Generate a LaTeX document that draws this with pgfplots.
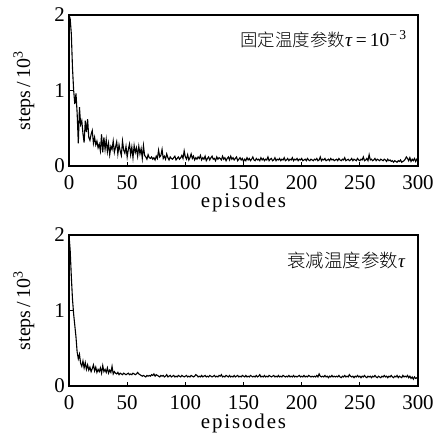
\documentclass[border=0pt]{standalone}
\usepackage{pgfplots}
\pgfplotsset{compat=1.18}
\usepackage{fontspec}
\setmainfont{Liberation Serif}
\newfontfamily\cjk{Noto Sans CJK SC}[UprightFont={* Light}]
\newfontfamily\xlabfont{Liberation Serif}[LetterSpace=9]
\pgfplotsset{panel/.style={
  width=349bp, height=151bp, scale only axis,
  xmin=0, xmax=300, ymin=0, ymax=2,
  xtick={0,50,...,300}, ytick={0,1,2},
  tick pos=left, tick align=inside, major tick length=4bp,
  axis line style={line width=1.4pt},
  every tick/.style={black, line width=0.9pt},
  /pgf/number format/assume math mode=true,
  tick label style={font=\fontsize{21}{21}\selectfont},
  xticklabel style={inner sep=0pt, anchor=north, yshift=-9bp},
  yticklabel style={inner sep=0pt, anchor=east, xshift=-4bp},
  xlabel={episodes},
  xlabel style={font=\xlabfont\fontsize{21}{21}\selectfont, at={(axis description cs:0.5,0)}, anchor=base, yshift=-42bp, inner sep=0pt},
  ylabel={steps\,/\,10\textsuperscript{3}},
  ylabel style={font=\fontsize{20}{20}\selectfont, at={(axis description cs:0,0.5)}, anchor=center, yshift=45bp, inner sep=0pt},
  clip mode=individual,
}}
\begin{document}
\begin{tikzpicture}
\useasboundingbox (-69bp,-57bp) rectangle (369bp,386bp);
% bottom panel
\begin{axis}[panel, name=bot, at={(0,0)}, anchor=south west]
\addplot[black, line width=1.1bp] coordinates {
(0,2.00)(1,1.80)(2,1.45)(3,1.15)(4,0.95)(5,0.80)(6,0.65)(7,0.45)(8,0.36)(9,0.42)
(10,0.30)(11,0.26)(12,0.33)(13,0.24)(14,0.31)(15,0.22)(16,0.28)(17,0.21)(18,0.25)(19,0.19)
(20,0.23)(21,0.28)(22,0.20)(23,0.25)(24,0.18)(25,0.22)(26,0.19)(27,0.24)(28,0.17)(29,0.27)
(30,0.19)(31,0.22)(32,0.18)(33,0.24)(34,0.17)(35,0.21)(36,0.18)(37,0.26)(38,0.16)(39,0.19)
(40,0.17)(41,0.16)(42,0.18)(43,0.15)(44,0.17)(45,0.16)(46,0.15)(47,0.17)(48,0.16)(49,0.15)
(50,0.16)(51,0.17)(52,0.15)(53,0.16)(54,0.15)(55,0.17)(56,0.16)(57,0.15)(58,0.16)(59,0.18)
(60,0.16)(61,0.15)(62,0.14)(63,0.13)(64,0.14)(65,0.13)(66,0.12)(67,0.14)(68,0.13)(69,0.14)
(70,0.13)(71,0.15)(72,0.14)(73,0.16)(74,0.13)(75,0.15)(76,0.14)(77,0.13)(78,0.12)(79,0.14)
(80,0.13)(81,0.14)(82,0.12)(83,0.13)(84,0.15)(85,0.12)(86,0.13)(87,0.14)(88,0.12)(89,0.13)
(90,0.14)(91,0.12)(92,0.13)(93,0.12)(94,0.14)(95,0.13)(96,0.12)(97,0.14)(98,0.13)(99,0.12)
(100,0.13)(101,0.14)(102,0.12)(103,0.13)(104,0.12)(105,0.14)(106,0.13)(107,0.12)(108,0.13)(109,0.15)
(110,0.14)(111,0.12)(112,0.13)(113,0.12)(114,0.14)(115,0.12)(116,0.13)(117,0.14)(118,0.12)(119,0.13)
(120,0.12)(121,0.14)(122,0.13)(123,0.12)(124,0.13)(125,0.14)(126,0.12)(127,0.13)(128,0.12)(129,0.14)
(130,0.13)(131,0.15)(132,0.12)(133,0.13)(134,0.12)(135,0.14)(136,0.13)(137,0.12)(138,0.14)(139,0.12)
(140,0.13)(141,0.12)(142,0.14)(143,0.12)(144,0.13)(145,0.14)(146,0.12)(147,0.13)(148,0.12)(149,0.14)
(150,0.13)(151,0.12)(152,0.14)(153,0.12)(154,0.13)(155,0.12)(156,0.14)(157,0.13)(158,0.12)(159,0.13)
(160,0.12)(161,0.14)(162,0.12)(163,0.13)(164,0.15)(165,0.12)(166,0.13)(167,0.12)(168,0.14)(169,0.12)
(170,0.13)(171,0.12)(172,0.14)(173,0.13)(174,0.12)(175,0.13)(176,0.14)(177,0.12)(178,0.13)(179,0.12)
(180,0.14)(181,0.12)(182,0.13)(183,0.12)(184,0.14)(185,0.13)(186,0.12)(187,0.13)(188,0.12)(189,0.14)
(190,0.12)(191,0.13)(192,0.12)(193,0.14)(194,0.12)(195,0.13)(196,0.12)(197,0.13)(198,0.14)(199,0.12)
(200,0.13)(201,0.12)(202,0.14)(203,0.12)(204,0.13)(205,0.12)(206,0.14)(207,0.13)(208,0.12)(209,0.13)
(210,0.12)(211,0.13)(212,0.12)(213,0.14)(214,0.12)(215,0.16)(216,0.13)(217,0.12)(218,0.13)(219,0.12)
(220,0.14)(221,0.12)(222,0.13)(223,0.11)(224,0.13)(225,0.12)(226,0.14)(227,0.12)(228,0.13)(229,0.12)
(230,0.13)(231,0.12)(232,0.14)(233,0.12)(234,0.11)(235,0.13)(236,0.12)(237,0.14)(238,0.12)(239,0.13)
(240,0.12)(241,0.15)(242,0.13)(243,0.12)(244,0.13)(245,0.11)(246,0.13)(247,0.12)(248,0.14)(249,0.12)
(250,0.13)(251,0.11)(252,0.13)(253,0.12)(254,0.14)(255,0.12)(256,0.11)(257,0.13)(258,0.12)(259,0.13)
(260,0.11)(261,0.13)(262,0.12)(263,0.14)(264,0.12)(265,0.11)(266,0.13)(267,0.12)(268,0.11)(269,0.13)
(270,0.12)(271,0.14)(272,0.12)(273,0.13)(274,0.11)(275,0.13)(276,0.12)(277,0.14)(278,0.12)(279,0.11)
(280,0.13)(281,0.12)(282,0.14)(283,0.11)(284,0.13)(285,0.12)(286,0.11)(287,0.14)(288,0.12)(289,0.13)
(290,0.12)(291,0.14)(292,0.11)(293,0.13)(294,0.10)(295,0.12)(296,0.09)(297,0.12)(298,0.10)(299,0.11)(300,0.09)
};
\node[anchor=east, inner sep=0pt] at (axis description cs:0.963,0.834)
  {\cjk\fontsize{18.5}{18.5}\selectfont 衰减温度参数{\rmfamily\itshape\fontsize{19}{19}\selectfont τ}};
\end{axis}
% top panel
\begin{axis}[panel, name=top, at={(0,220bp)}, anchor=south west]
\addplot[black, line width=1.1bp] coordinates {
(0,2.00)(1,1.95)(2,1.75)(3,1.30)(4,1.00)(5,0.82)(6,0.96)(7,0.70)(8,0.30)(9,0.78)
(10,0.55)(11,0.60)(12,0.43)(13,0.31)(14,0.60)(15,0.45)(16,0.62)(17,0.38)(18,0.34)(19,0.42)
(20,0.47)(21,0.30)(22,0.38)(23,0.28)(24,0.33)(25,0.24)(26,0.29)(27,0.20)(28,0.42)(29,0.18)
(30,0.38)(31,0.22)(32,0.35)(33,0.19)(34,0.30)(35,0.15)(36,0.26)(37,0.22)(38,0.33)(39,0.18)
(40,0.25)(41,0.32)(42,0.16)(43,0.28)(44,0.20)(45,0.14)(46,0.33)(47,0.21)(48,0.17)(49,0.26)
(50,0.12)(51,0.22)(52,0.29)(53,0.15)(54,0.25)(55,0.11)(56,0.27)(57,0.18)(58,0.24)(59,0.13)
(60,0.26)(61,0.16)(62,0.23)(63,0.10)(64,0.27)(65,0.14)(66,0.12)(67,0.09)(68,0.15)(69,0.11)
(70,0.10)(71,0.12)(72,0.09)(73,0.11)(74,0.08)(75,0.13)(76,0.10)(77,0.21)(78,0.12)(79,0.14)
(80,0.22)(81,0.10)(82,0.13)(83,0.09)(84,0.16)(85,0.11)(86,0.08)(87,0.12)(88,0.10)(89,0.09)
(90,0.11)(91,0.13)(92,0.08)(93,0.10)(94,0.12)(95,0.09)(96,0.11)(97,0.14)(98,0.10)(99,0.20)
(100,0.12)(101,0.09)(102,0.15)(103,0.08)(104,0.11)(105,0.16)(106,0.10)(107,0.13)(108,0.08)(109,0.11)
(110,0.09)(111,0.12)(112,0.10)(113,0.14)(114,0.08)(115,0.11)(116,0.09)(117,0.13)(118,0.07)(119,0.10)
(120,0.12)(121,0.08)(122,0.11)(123,0.13)(124,0.09)(125,0.10)(126,0.07)(127,0.12)(128,0.09)(129,0.11)
(130,0.10)(131,0.08)(132,0.13)(133,0.09)(134,0.11)(135,0.07)(136,0.10)(137,0.12)(138,0.08)(139,0.13)
(140,0.09)(141,0.11)(142,0.08)(143,0.10)(144,0.12)(145,0.07)(146,0.09)(147,0.11)(148,0.08)(149,0.10)
(150,0.06)(151,0.09)(152,0.07)(153,0.11)(154,0.08)(155,0.10)(156,0.07)(157,0.09)(158,0.12)(159,0.08)
(160,0.07)(161,0.10)(162,0.08)(163,0.09)(164,0.07)(165,0.11)(166,0.08)(167,0.10)(168,0.07)(169,0.09)
(170,0.08)(171,0.12)(172,0.07)(173,0.09)(174,0.10)(175,0.07)(176,0.08)(177,0.11)(178,0.07)(179,0.09)
(180,0.08)(181,0.10)(182,0.07)(183,0.09)(184,0.08)(185,0.11)(186,0.07)(187,0.08)(188,0.10)(189,0.07)
(190,0.09)(191,0.08)(192,0.11)(193,0.07)(194,0.09)(195,0.08)(196,0.10)(197,0.07)(198,0.09)(199,0.08)
(200,0.10)(201,0.07)(202,0.08)(203,0.09)(204,0.07)(205,0.10)(206,0.08)(207,0.07)(208,0.09)(209,0.08)
(210,0.07)(211,0.09)(212,0.08)(213,0.10)(214,0.07)(215,0.08)(216,0.12)(217,0.07)(218,0.09)(219,0.08)
(220,0.10)(221,0.07)(222,0.08)(223,0.09)(224,0.07)(225,0.10)(226,0.08)(227,0.09)(228,0.07)(229,0.08)
(230,0.09)(231,0.07)(232,0.10)(233,0.08)(234,0.07)(235,0.09)(236,0.08)(237,0.11)(238,0.07)(239,0.08)
(240,0.09)(241,0.07)(242,0.08)(243,0.10)(244,0.07)(245,0.09)(246,0.08)(247,0.07)(248,0.10)(249,0.08)
(250,0.07)(251,0.09)(252,0.08)(253,0.12)(254,0.07)(255,0.08)(256,0.10)(257,0.07)(258,0.15)(259,0.08)
(260,0.09)(261,0.07)(262,0.08)(263,0.10)(264,0.07)(265,0.09)(266,0.08)(267,0.07)(268,0.09)(269,0.08)
(270,0.07)(271,0.09)(272,0.08)(273,0.06)(274,0.09)(275,0.07)(276,0.08)(277,0.06)(278,0.07)(279,0.05)
(280,0.07)(281,0.06)(282,0.05)(283,0.07)(284,0.06)(285,0.08)(286,0.05)(287,0.06)(288,0.07)(289,0.09)
(290,0.12)(291,0.10)(292,0.07)(293,0.11)(294,0.06)(295,0.09)(296,0.07)(297,0.10)(298,0.06)(299,0.09)(300,0.07)
};
\node[anchor=east, inner sep=0pt] at (axis description cs:0.968,0.84)
  {\cjk\fontsize{17.5}{17.5}\selectfont 固定温度参数{\rmfamily\fontsize{19.5}{19.5}\selectfont\textit{τ}\,=\,10\textsuperscript{−\,3}}};
\end{axis}
\end{tikzpicture}
\end{document}
